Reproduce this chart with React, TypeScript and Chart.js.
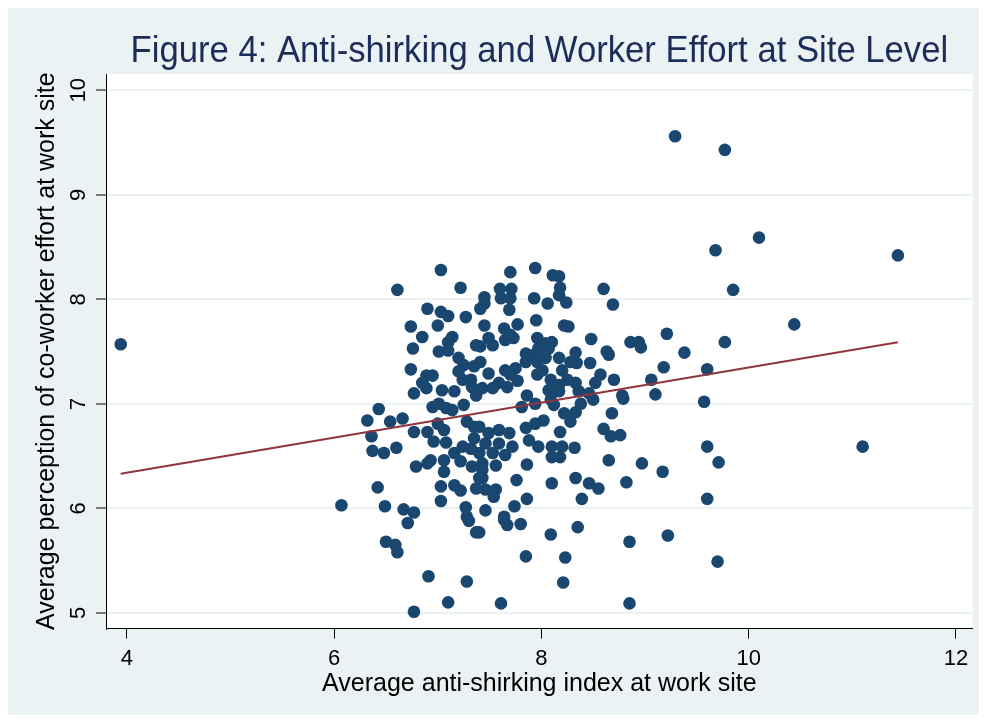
import React, { useEffect, useRef } from 'react';
import { Chart, registerables } from 'chart.js';

Chart.register(...registerables);

const chartTitle = 'Figure 4: Anti-shirking and Worker Effort at Site Level';
const xAxisTitle = 'Average anti-shirking index at work site';
const yAxisTitle = 'Average perception of co-worker effort at work site';

const xTickValues = [4, 6, 8, 10, 12];
const yTickValues = [5, 6, 7, 8, 9, 10];

// Fitted line: effort = intercept + slope * index
const fitIntercept = 5.671;
const fitSlope = 0.1676;

// Site-level observations (x: anti-shirking index, y: co-worker effort), same order in both arrays
const antiShirkingIndex = [
  7.03, 6.61, 7.22, 6.90, 7.03, 7.10, 7.27, 6.74, 7.00, 6.85,
  7.14, 7.10, 6.76, 7.01, 7.10, 7.20, 7.25, 7.37, 7.35, 6.74,
  6.89, 6.95, 7.20, 7.24, 7.32, 6.85, 6.89, 6.77, 7.04, 7.16,
  7.33, 7.37, 7.70, 7.94, 8.11, 8.17, 8.18, 8.60, 7.60, 7.71,
  8.17, 7.45, 7.45, 7.61, 7.70, 7.93, 8.06, 8.24, 8.69, 7.69,
  7.41, 7.95, 7.77, 7.45, 8.22, 8.26, 7.64, 7.70, 7.65, 7.73,
  7.49, 7.53, 8.48, 7.96, 8.04, 8.10, 7.97, 8.07, 7.41, 8.63,
  8.65, 8.33, 7.85, 7.93, 7.85, 7.96, 8.04, 8.17, 7.41, 8.28,
  8.34, 8.47, 7.65, 7.75, 7.70, 8.01, 7.96, 8.20, 7.49, 8.57,
  8.70, 7.77, 7.59, 7.53, 7.67, 8.09, 8.17, 8.07, 8.25, 8.33,
  8.52, 7.86, 7.43, 8.17, 8.46, 8.36, 6.43, 6.32, 6.54, 6.66,
  6.36, 6.77, 6.90, 6.95, 7.01, 7.08, 7.14, 7.25, 7.00, 7.06,
  7.28, 7.35, 6.96, 7.08, 6.37, 6.48, 6.60, 7.16, 7.24, 7.32,
  7.35, 6.79, 6.90, 6.93, 7.06, 7.33, 7.06, 7.22, 6.42, 7.03,
  7.16, 7.22, 7.37, 7.40, 6.07, 6.49, 6.67, 6.77, 7.03, 7.27,
  7.28, 8.68, 8.22, 8.33, 8.38, 8.50, 8.12, 8.09, 7.81, 7.94,
  8.02, 7.94, 8.28, 7.85, 8.18, 8.60, 8.67, 7.88, 7.97, 8.10,
  8.20, 8.10, 8.18, 8.32, 8.65, 7.86, 7.56, 7.43, 7.43, 7.76,
  8.10, 8.33, 8.46, 8.55, 7.46, 7.56, 7.54, 7.86, 8.39, 7.74,
  7.46, 7.64, 7.40, 7.49, 7.59, 7.69, 7.46, 7.59, 7.72, 7.40,
  7.53, 7.65, 7.43, 6.71, 7.30, 7.37, 6.50, 6.59, 6.61, 6.91,
  7.28, 7.10, 6.77, 7.40, 7.67, 7.64, 7.80, 8.09, 8.35, 7.85,
  8.23, 8.21, 7.61, 9.29, 9.77, 10.10, 9.68, 11.44, 9.85, 10.44,
  9.21, 8.86, 8.94, 8.96, 9.77, 9.38, 9.18, 9.60, 9.06, 8.78,
  8.79, 9.10, 9.57, 8.76, 9.60, 11.10, 8.97, 9.71, 9.17, 8.82,
  9.60, 8.85, 9.22, 9.70, 8.85, 3.94,
];

const coworkerEffort = [
  8.28, 8.09, 8.11, 7.91, 7.88, 7.84, 7.83, 7.74, 7.75, 7.64,
  7.64, 7.59, 7.53, 7.50, 7.51, 7.44, 7.37, 7.56, 7.36, 7.33,
  7.27, 7.27, 7.31, 7.23, 7.23, 7.20, 7.15, 7.10, 7.13, 7.12,
  7.16, 7.08, 8.26, 8.30, 8.23, 8.22, 8.11, 8.10, 8.10, 8.10,
  8.04, 8.02, 7.96, 8.01, 8.01, 8.01, 7.96, 7.97, 7.95, 7.90,
  7.91, 7.80, 7.76, 7.75, 7.75, 7.74, 7.72, 7.66, 7.61, 7.63,
  7.63, 7.56, 7.62, 7.63, 7.58, 7.59, 7.53, 7.53, 7.55, 7.50,
  7.47, 7.49, 7.48, 7.47, 7.40, 7.40, 7.44, 7.44, 7.40, 7.40,
  7.39, 7.39, 7.32, 7.34, 7.28, 7.32, 7.28, 7.32, 7.29, 7.28,
  7.23, 7.22, 7.20, 7.15, 7.16, 7.23, 7.18, 7.13, 7.23, 7.20,
  7.20, 7.08, 7.15, 7.12, 7.10, 7.12, 6.95, 6.84, 6.83, 6.86,
  6.69, 6.73, 6.73, 6.97, 7.00, 6.96, 6.94, 6.99, 6.81, 6.75,
  6.83, 6.78, 6.64, 6.63, 6.55, 6.53, 6.58, 6.53, 6.59, 6.57,
  6.67, 6.40, 6.43, 6.46, 6.46, 6.40, 6.35, 6.45, 6.20, 6.21,
  6.22, 6.17, 6.19, 6.29, 6.03, 6.02, 5.99, 5.96, 6.07, 6.01,
  5.92, 6.91, 6.91, 6.92, 7.00, 7.04, 6.99, 7.04, 6.97, 7.00,
  6.84, 6.81, 6.83, 6.77, 6.73, 6.76, 6.69, 6.65, 6.59, 6.59,
  6.59, 6.49, 6.49, 6.58, 6.46, 6.42, 6.41, 6.37, 6.29, 6.27,
  6.24, 6.29, 6.24, 6.19, 6.18, 6.18, 6.11, 6.09, 6.09, 6.02,
  5.98, 5.92, 6.78, 6.72, 6.75, 6.72, 6.62, 6.62, 6.59, 6.53,
  6.53, 6.51, 6.43, 5.86, 5.88, 5.77, 5.68, 5.65, 5.58, 5.35,
  5.30, 5.10, 5.01, 5.77, 5.84, 5.89, 5.85, 5.75, 5.82, 5.54,
  5.53, 5.29, 5.09, 9.56, 9.43, 8.59, 8.47, 8.42, 8.09, 7.76,
  7.67, 7.59, 7.59, 7.54, 7.59, 7.49, 7.35, 7.33, 7.23, 7.08,
  7.05, 7.09, 7.02, 6.70, 6.59, 6.59, 6.43, 6.44, 6.35, 6.25,
  6.09, 5.68, 5.74, 5.49, 5.09, 7.57,
];

const FONT = '"Liberation Sans", Arial, Helvetica, sans-serif';
const GRAPH_BG = '#eaf2f3';
const PLOT_BG = '#ffffff';
const GRID = '#eaf2f3';
const DOT = '#1a476f';
const FIT = '#90353b';
const TITLE_COLOR = '#1c2d5a';

export default function App() {
  const canvasRef = useRef<HTMLCanvasElement | null>(null);

  useEffect(() => {
    const canvas = canvasRef.current;
    if (!canvas) return;

    const points = antiShirkingIndex.map((x, i) => ({ x, y: coworkerEffort[i] }));
    const xLo = Math.min(...antiShirkingIndex);
    const xHi = Math.max(...antiShirkingIndex);
    const fitLine = [
      { x: xLo, y: fitIntercept + fitSlope * xLo },
      { x: xHi, y: fitIntercept + fitSlope * xHi },
    ];

    const backgroundPlugin = {
      id: 'stataBackground',
      beforeDraw(chart: any) {
        const { ctx, chartArea, width, height } = chart;
        ctx.save();
        ctx.fillStyle = GRAPH_BG;
        ctx.fillRect(0, 0, width, height);
        ctx.fillStyle = PLOT_BG;
        ctx.fillRect(chartArea.left, chartArea.top, chartArea.right - chartArea.left, chartArea.bottom - chartArea.top);
        ctx.restore();
      },
    };

    const titlePlugin = {
      id: 'stataTitle',
      afterDraw(chart: any) {
        const { ctx, chartArea } = chart;
        ctx.save();
        ctx.font = `36px ${FONT}`;
        ctx.fillStyle = TITLE_COLOR;
        ctx.textAlign = 'center';
        ctx.textBaseline = 'alphabetic';
        ctx.translate((chartArea.left + chartArea.right) / 2, 54.3);
        ctx.scale(0.963, 1);
        ctx.fillText(chartTitle, 0, 0);
        ctx.restore();
      },
    };

    const chart = new Chart(canvas, {
      type: 'scatter',
      data: {
        datasets: [
          {
            type: 'line',
            data: fitLine,
            borderColor: FIT,
            borderWidth: 2,
            pointRadius: 0,
            fill: false,
            order: 0,
          } as any,
          {
            type: 'scatter',
            data: points,
            backgroundColor: DOT,
            borderColor: DOT,
            borderWidth: 0,
            pointRadius: 6.3,
            order: 1,
          },
        ],
      },
      options: {
        responsive: false,
        maintainAspectRatio: false,
        animation: false,
        devicePixelRatio: 1,
        layout: { padding: { top: 66, right: 4, left: 0, bottom: 0 } },
        plugins: {
          legend: { display: false },
          tooltip: { enabled: false },
          title: { display: false },
        },
        scales: {
          x: {
            type: 'linear',
            min: 3.798,
            max: 12.162,
            afterBuildTicks: (s: any) => {
              s.ticks = xTickValues.map((v) => ({ value: v }));
            },
            afterFit: (s: any) => {
              s.height = 86.5;
            },
            grid: {
              drawOnChartArea: false,
              drawTicks: true,
              tickLength: 10,
              tickColor: '#000',
              tickWidth: 1,
            },
            border: { display: true, color: '#000', width: 1 },
            ticks: {
              color: '#000',
              font: { family: FONT, size: 22 },
              padding: 7,
              maxRotation: 0,
              minRotation: 0,
            },
            title: {
              display: true,
              text: xAxisTitle,
              color: '#000',
              font: { family: FONT, size: 25 },
              padding: { top: 0, bottom: 16 },
            },
          },
          y: {
            type: 'linear',
            min: 4.85,
            max: 10.156,
            afterBuildTicks: (s: any) => {
              s.ticks = yTickValues.map((v) => ({ value: v }));
            },
            afterFit: (s: any) => {
              s.width = 98;
            },
            grid: {
              color: GRID,
              lineWidth: 2,
              drawTicks: true,
              tickLength: 10,
              tickColor: '#000',
              tickWidth: 1,
            },
            border: { display: true, color: '#000', width: 1 },
            ticks: {
              color: '#000',
              font: { family: FONT, size: 22 },
              padding: 5,
              minRotation: 90,
              maxRotation: 90,
              crossAlign: 'center',
            },
            title: {
              display: true,
              text: yAxisTitle,
              color: '#000',
              font: { family: FONT, size: 25 },
              padding: { top: 24, bottom: 0 },
            },
          },
        },
      },
      plugins: [backgroundPlugin, titlePlugin],
    });

    return () => {
      chart.destroy();
    };
  }, []);

  return (
    <div style={{ width: 971, height: 707 }}>
      <canvas ref={canvasRef} width={971} height={707} style={{ display: 'block', width: 971, height: 707 }} />
    </div>
  );
}
